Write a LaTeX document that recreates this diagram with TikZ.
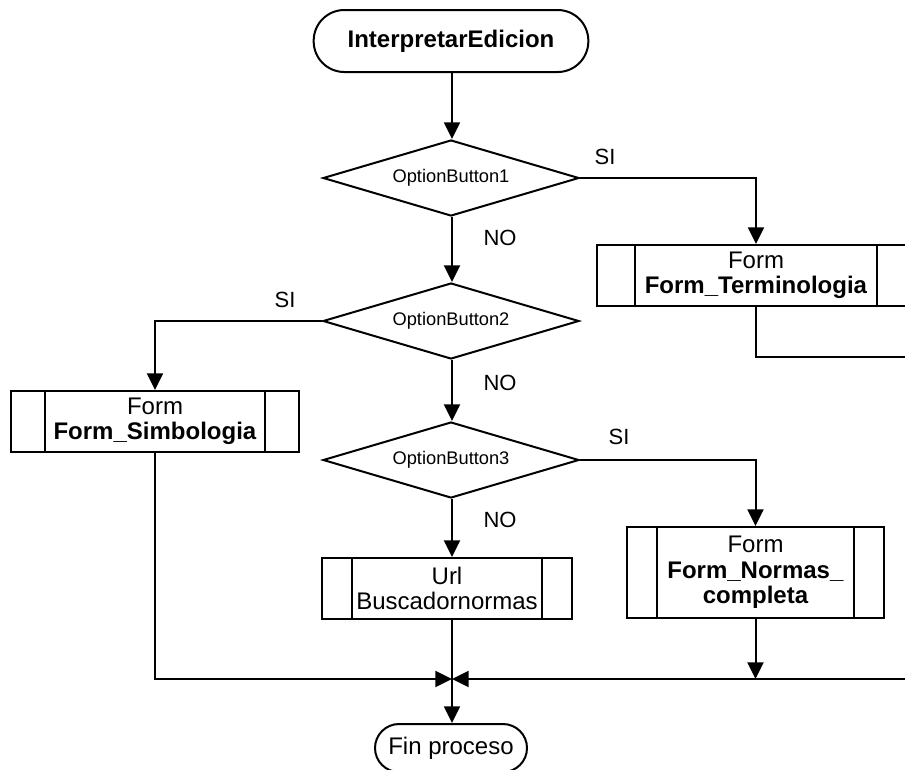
\documentclass[tikz,border=0pt]{standalone}
\usepackage{fontspec}
\setmainfont{Liberation Sans}
\usetikzlibrary{shapes.geometric,arrows.meta}
\begin{document}
\begin{tikzpicture}[x=0.75pt,y=-0.75pt,
  flow/.style={line width=1.5pt},
  arr/.style={flow,-{Triangle[length=12.5pt,width=12pt]}},
  terminal/.style={draw,flow,rounded corners=#1,inner sep=0pt,
    font=\fontsize{18}{19}\selectfont},
  decision/.style={draw,flow,diamond,aspect=3.37,inner sep=0pt,
    minimum width=192pt,minimum height=57pt,
    font=\fontsize{13.7}{15}\selectfont},
  proc/.style={draw,flow,rectangle,inner sep=0pt,align=center,
    font=\fontsize{18}{19}\selectfont},
  lbl/.style={font=\fontsize{16.5}{18}\selectfont,inner sep=0pt}]
\useasboundingbox (0,0) rectangle (905,769);

% terminals
\node[terminal=23pt,minimum width=206pt,minimum height=46.5pt] (start) at (451,41)
  {\textbf{InterpretarEdicion}};
\node[terminal=18pt,minimum width=114pt,minimum height=36pt] (fin) at (451,748)
  {Fin proceso};

% decisions
\node[decision] (d1) at (451,178) {OptionButton1};
\node[decision] (d2) at (451,321) {OptionButton2};
\node[decision] (d3) at (451,460) {OptionButton3};

% predefined processes
\node[proc,minimum width=238.5pt,minimum height=45.75pt] (fterm) at (756,275.5)
  {Form\\\textbf{Form\_Terminologia}};
\node[proc,minimum width=216pt,minimum height=45.75pt] (fsimb) at (155,421.5)
  {Form\\\textbf{Form\_Simbologia}};
\node[proc,minimum width=192.75pt,minimum height=68.25pt] (fnorm) at (755.5,572.5)
  {Form\\\textbf{Form\_Normas\_}\\\textbf{completa}};
\node[proc,minimum width=187.5pt,minimum height=45.75pt] (furl) at (447,588.5)
  {Url\\Buscadornormas};

\foreach \n/\d in {fterm/29.25pt,fsimb/26.25pt,fnorm/23.25pt,furl/23.25pt}
  \draw[flow] ([xshift=\d]\n.north west) -- ([xshift=\d]\n.south west)
              ([xshift=-\d]\n.north east) -- ([xshift=-\d]\n.south east);

% branch labels
\node[lbl] (si1) at (605,157) {SI};
\node[lbl] (no1) at (500,238) {NO};
\node[lbl] (si2) at (285,300) {SI};
\node[lbl] (no2) at (500,383) {NO};
\node[lbl] (si3) at (619,437) {SI};
\node[lbl] (no3) at (500,520) {NO};

% merge points
\coordinate (j) at (452,679);
\coordinate (rt) at (915,357);
\coordinate (rb) at (915,679);

% connectors
\draw[arr] (start.south -| j) -- (d1.north -| j);
\draw[arr] (d1.east) -| (fterm.north);
\draw[arr] (d1.south -| j) -- (d2.north -| j);
\draw[arr] (d2.west) -| (fsimb.north);
\draw[arr] (d2.south -| j) -- (d3.north -| j);
\draw[arr] (d3.east) -| (fnorm.north);
\draw[arr] (d3.south -| j) -- (furl.north -| j);
\draw[flow] (fterm.south) |- (rt) -- (rb);
\draw[arr] (rb) -- (j);
\draw[arr] (fsimb.south) |- (j);
\draw[arr] (fnorm.south) -- (fnorm.south |- j);
\draw[flow] (furl.south -| j) -- (j);
\draw[arr] (j) -- (fin.north -| j);
\end{tikzpicture}
\end{document}
